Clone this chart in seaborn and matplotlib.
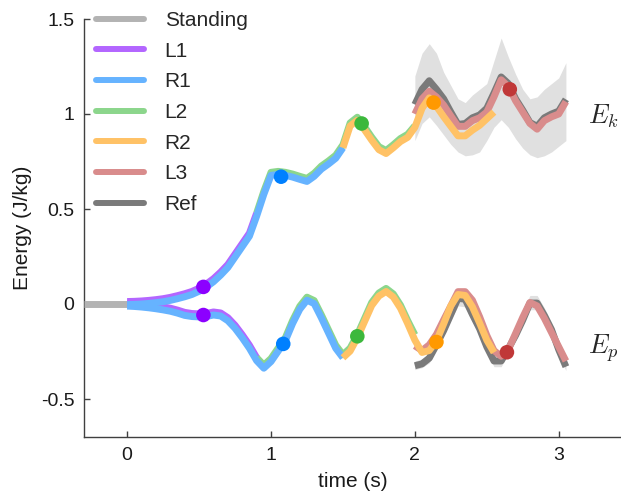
import numpy as np
import pandas as pd
import matplotlib
matplotlib.use("Agg")
import matplotlib.pyplot as plt
from matplotlib.lines import Line2D
import seaborn as sns

# ---------------- data ----------------
t_stand = [-0.3, 0.0]
e_stand = [0.0, 0.0]

t_L1 = [0.00, 0.05, 0.10, 0.15, 0.20, 0.25, 0.30, 0.35, 0.40, 0.45, 0.50, 0.55, 0.60, 0.65, 0.70, 0.75, 0.80, 0.85, 0.90]
ek_L1 = [0.013, 0.014, 0.016, 0.019, 0.023, 0.028, 0.035, 0.044, 0.054, 0.066, 0.083, 0.105, 0.133, 0.168, 0.208, 0.263, 0.318, 0.373, 0.478]
ep_L1 = [0.005, 0.003, 0.000, -0.004, -0.009, -0.015, -0.022, -0.032, -0.044, -0.050, -0.052, -0.050, -0.042, -0.047, -0.072, -0.112, -0.162, -0.217, -0.282]

t_R1 = [0.00, 0.05, 0.10, 0.15, 0.20, 0.25, 0.30, 0.35, 0.40, 0.45, 0.50, 0.55, 0.60, 0.65, 0.70, 0.75,
        0.80, 0.85, 0.90, 0.95, 1.00, 1.05, 1.10, 1.15, 1.20, 1.25, 1.30, 1.35, 1.40, 1.45, 1.50]
ek_R1 = [-0.003, -0.002, 0.000, 0.003, 0.007, 0.012, 0.019, 0.028, 0.038, 0.050, 0.067, 0.089, 0.117, 0.152, 0.192, 0.247,
         0.302, 0.357, 0.462, 0.577, 0.677, 0.682, 0.677, 0.668, 0.656, 0.645, 0.672, 0.710, 0.737, 0.767, 0.822]
ep_R1 = [-0.011, -0.013, -0.016, -0.020, -0.025, -0.031, -0.038, -0.048, -0.060, -0.066, -0.068, -0.066, -0.058, -0.063, -0.088, -0.128,
         -0.178, -0.233, -0.298, -0.338, -0.303, -0.248, -0.193, -0.103, -0.028, 0.020, 0.002, -0.073, -0.153, -0.233, -0.283]

t_L2 = [0.90, 0.95, 1.00, 1.05, 1.10, 1.15, 1.20, 1.25, 1.30, 1.35, 1.40, 1.45, 1.50, 1.55, 1.60, 1.65, 1.70, 1.75, 1.80, 1.85, 1.90, 1.95, 2.00]
ek_L2 = [0.478, 0.593, 0.693, 0.698, 0.693, 0.684, 0.672, 0.661, 0.688, 0.726, 0.753, 0.783, 0.838, 0.953, 0.983, 0.933, 0.878, 0.828, 0.808, 0.838, 0.871, 0.893, 0.938]
ep_L2 = [-0.282, -0.322, -0.287, -0.232, -0.177, -0.087, -0.012, 0.036, 0.018, -0.057, -0.137, -0.217, -0.267, -0.232, -0.162, -0.077, 0.008, 0.058, 0.082, 0.053, -0.006, -0.087, -0.162]

t_R2 = [1.50, 1.55, 1.60, 1.65, 1.70, 1.75, 1.80, 1.85, 1.90, 1.95, 2.00, 2.05, 2.10, 2.15, 2.20, 2.25, 2.30, 2.35, 2.40, 2.45, 2.50, 2.55]
ek_R2 = [0.822, 0.937, 0.967, 0.917, 0.862, 0.812, 0.792, 0.822, 0.855, 0.877, 0.930, 1.030, 1.085, 1.040, 0.986, 0.935, 0.885, 0.885, 0.915, 0.940, 0.975, 1.010]
ep_R2 = [-0.283, -0.248, -0.178, -0.093, -0.008, 0.042, 0.066, 0.037, -0.022, -0.103, -0.190, -0.255, -0.245, -0.195, -0.105, -0.010, 0.050, 0.045, -0.015, -0.100, -0.190, -0.255]

t_L3 = [2.00, 2.05, 2.10, 2.15, 2.20, 2.25, 2.30, 2.35, 2.40, 2.45, 2.50, 2.55, 2.60, 2.65, 2.70, 2.75, 2.80, 2.85, 2.90, 2.95, 3.00, 3.05]
ek_L3 = [1.000, 1.080, 1.120, 1.090, 1.047, 0.990, 0.935, 0.935, 0.965, 0.980, 1.010, 1.090, 1.180, 1.145, 1.070, 1.010, 0.950, 0.920, 0.965, 0.985, 1.000, 1.065]
ep_L3 = [-0.220, -0.245, -0.215, -0.160, -0.084, -0.010, 0.065, 0.065, 0.020, -0.067, -0.165, -0.245, -0.275, -0.240, -0.155, -0.070, 0.008, -0.010, -0.075, -0.150, -0.225, -0.300]

t_ref = [2.00, 2.05, 2.10, 2.15, 2.20, 2.25, 2.30, 2.35, 2.40, 2.45, 2.50, 2.55, 2.60, 2.65, 2.70, 2.75, 2.80, 2.85, 2.90, 2.95, 3.00, 3.05]
ek_ref = [1.050, 1.130, 1.175, 1.130, 1.080, 1.010, 0.945, 0.950, 0.980, 0.995, 1.030, 1.110, 1.195, 1.160, 1.080, 1.020, 0.955, 0.935, 0.980, 1.000, 1.015, 1.077]
ep_ref = [-0.325, -0.315, -0.285, -0.215, -0.140, -0.055, 0.030, 0.025, -0.055, -0.130, -0.225, -0.300, -0.300, -0.235, -0.165, -0.085, 0.005, 0.005, -0.060, -0.135, -0.240, -0.330]
ek_ref_hi = [1.20, 1.32, 1.37, 1.32, 1.22, 1.15, 1.08, 1.06, 1.10, 1.13, 1.16, 1.28, 1.40, 1.30, 1.21, 1.13, 1.08, 1.09, 1.13, 1.16, 1.19, 1.27]
ek_ref_lo = [0.86, 0.95, 0.985, 0.94, 0.89, 0.84, 0.80, 0.78, 0.785, 0.80, 0.86, 0.93, 0.97, 0.93, 0.87, 0.82, 0.785, 0.77, 0.78, 0.80, 0.83, 0.86]
ep_ref_hi = [-0.30, -0.29, -0.26, -0.19, -0.11, -0.02, 0.075, 0.07, -0.02, -0.10, -0.20, -0.27, -0.27, -0.20, -0.12, -0.03, 0.045, 0.045, -0.02, -0.10, -0.21, -0.31]
ep_ref_lo = [-0.345, -0.335, -0.31, -0.24, -0.165, -0.085, -0.01, -0.015, -0.09, -0.16, -0.25, -0.33, -0.33, -0.26, -0.19, -0.11, -0.03, -0.03, -0.09, -0.16, -0.27, -0.35]

# step-event markers
mk_labels = ["L1", "R1", "L2", "R2", "L3"]
mk_t_ek = [0.53, 1.07, 1.63, 2.13, 2.66]
mk_e_ek = [0.09, 0.67, 0.95, 1.06, 1.13]
mk_t_ep = [0.53, 1.085, 1.60, 2.15, 2.64]
mk_e_ep = [-0.058, -0.21, -0.17, -0.20, -0.254]

x_ticks = [0, 1, 2, 3]
x_ticklabels = ["0", "1", "2", "3"]
y_ticks = [1.5, 1.0, 0.5, 0.0, -0.5]
y_ticklabels = ["1.5", "1", "0.5", "0", "-0.5"]

# ---------------- style ----------------
line_cols = {"Standing": "#b3b3b3", "L1": "#b366ff", "R1": "#66b3ff", "L2": "#8cd68c",
             "R2": "#ffc266", "L3": "#d98c8c", "Ref": "#7a7a7a"}
mk_cols = {"L1": "#8c00ff", "R1": "#0080ff", "L2": "#3cb83c", "R2": "#ff9900", "L3": "#c03838"}

sns.set_style("ticks")
plt.rcParams["font.family"] = ["Liberation Sans", "DejaVu Sans"]
plt.rcParams["mathtext.fontset"] = "cm"

fig = plt.figure(figsize=(6.21, 4.99), dpi=100)
ax = fig.add_axes([84 / 621, 1 - 437 / 499, 1 - 84 / 621, (437 - 19) / 499])

LW = 5.0

def seg(t, e, name, z, alpha=1.0):
    df = pd.DataFrame({"t": t, "e": e})
    sns.lineplot(data=df, x="t", y="e", ax=ax, color=line_cols[name], lw=LW,
                 zorder=z, alpha=alpha, solid_capstyle="butt", sort=False, legend=False)

# reference band
ax.fill_between(t_ref, ek_ref_lo, ek_ref_hi, color="#e0e0e0", lw=0, zorder=1)
ax.fill_between(t_ref, ep_ref_lo, ep_ref_hi, color="#e0e0e0", lw=0, zorder=1)
seg(t_ref, ek_ref, "Ref", 2)
seg(t_ref, ep_ref, "Ref", 2)

seg(t_stand, e_stand, "Standing", 3)
for t, ek, ep, nm in [(t_L1, ek_L1, ep_L1, "L1"), (t_L2, ek_L2, ep_L2, "L2"), (t_L3, ek_L3, ep_L3, "L3")]:
    seg(t, ek, nm, 3)
    seg(t, ep, nm, 3)
for t, ek, ep, nm in [(t_R1, ek_R1, ep_R1, "R1"), (t_R2, ek_R2, ep_R2, "R2")]:
    seg(t, ek, nm, 4)
    seg(t, ep, nm, 4)

mdf = pd.DataFrame({"t": mk_t_ek + mk_t_ep, "e": mk_e_ek + mk_e_ep, "lab": mk_labels + mk_labels})
sns.scatterplot(data=mdf, x="t", y="e", hue="lab", palette=mk_cols, s=110, linewidth=0,
                ax=ax, zorder=6, legend=False)

ax.text(3.205, 0.99, "$E_k$", fontsize=19, va="center", ha="left")
ax.text(3.205, -0.23, "$E_p$", fontsize=19, va="center", ha="left")

ax.set_xlim(-0.3, 3.433)
ax.set_ylim(-0.7, 1.5)
ax.set_xticks(x_ticks)
ax.set_xticklabels(x_ticklabels)
ax.set_yticks(y_ticks)
ax.set_yticklabels(y_ticklabels)
ax.tick_params(direction="in", length=4, width=1, colors="#404040", labelsize=14,
               labelcolor="#1a1a1a", pad=7)
for side in ["top", "right"]:
    ax.spines[side].set_visible(False)
for side in ["left", "bottom"]:
    ax.spines[side].set_color("#404040")
    ax.spines[side].set_linewidth(1.0)
ax.set_xlabel("time (s)", fontsize=15, color="#1a1a1a", labelpad=6)
ax.set_ylabel("Energy (J/kg)", fontsize=15, color="#1a1a1a", labelpad=6)

names = ["Standing", "L1", "R1", "L2", "R2", "L3", "Ref"]
handles = [Line2D([0], [0], color=line_cols[n], lw=4.3) for n in names]
fig.legend(handles, names, loc="upper left", bbox_to_anchor=(96 / 621, 1 - 11 / 499),
           frameon=False, fontsize=15, handlelength=2.3, handletextpad=1.0,
           labelspacing=0.56, borderpad=0, borderaxespad=0)

fig.savefig("out.png", dpi=100)
